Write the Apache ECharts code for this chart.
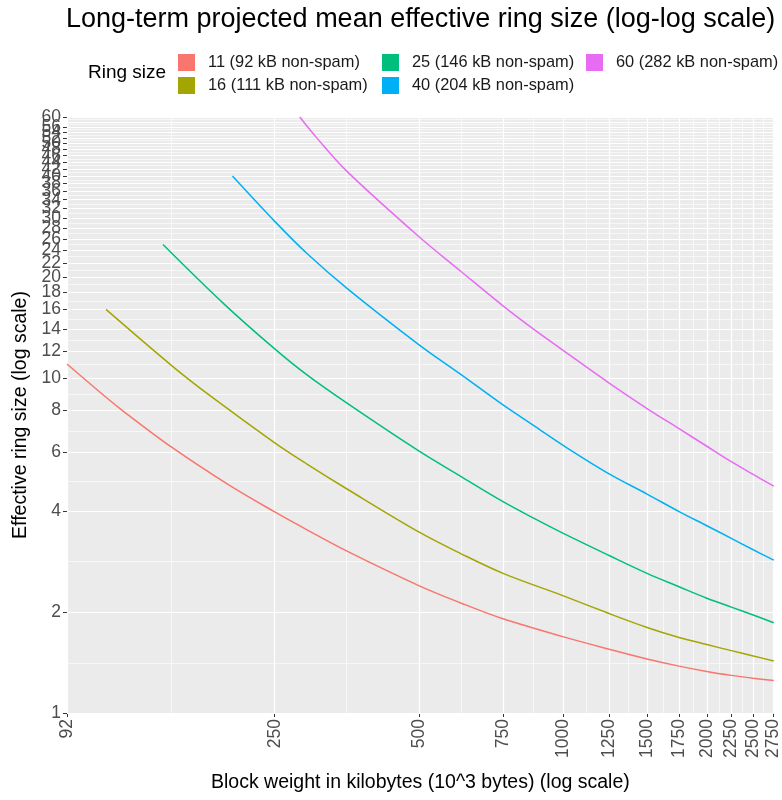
<!DOCTYPE html>
<html><head><meta charset="utf-8">
<script src="https://cdn.jsdelivr.net/npm/echarts@6/dist/echarts.min.js"></script>
<style>html,body{margin:0;padding:0;background:#fff}#c{width:782px;height:800px}</style>
</head><body><div id="c"></div>
<script>
// ---- data ----
const seriesNames = ['11 (92 kB non-spam)', '16 (111 kB non-spam)', '25 (146 kB non-spam)', '40 (204 kB non-spam)', '60 (282 kB non-spam)'];
const seriesColors = ['#F8766D', '#A3A500', '#00BF7D', '#00B0F6', '#E76BF3'];

const weight11 = [92, 111, 120, 152, 200, 250, 292, 354, 500, 612, 750, 1000, 1250, 1500, 1750, 2000, 2250, 2500, 2760];
const ring11   = [11, 8.75, 8.0, 6.22, 4.80, 3.98, 3.52, 3.04, 2.40, 2.13, 1.91, 1.69, 1.55, 1.45, 1.38, 1.33, 1.295, 1.27, 1.25];

const weight16 = [111, 152, 184, 250, 292, 354, 500, 612, 750, 1000, 1250, 1500, 1750, 2000, 2250, 2500, 2760];
const ring16   = [16, 10.9, 8.8, 6.40, 5.53, 4.66, 3.47, 2.99, 2.61, 2.24, 1.98, 1.80, 1.68, 1.60, 1.535, 1.48, 1.43];

const weight25 = [146, 196, 250, 292, 354, 500, 612, 750, 873, 1000, 1250, 1500, 1750, 2000, 2250, 2500, 2760];
const ring25   = [25, 16.6, 12.2, 10.2, 8.4, 6.05, 5.08, 4.27, 3.80, 3.44, 2.95, 2.61, 2.38, 2.20, 2.07, 1.96, 1.86];

const weight40 = [204, 250, 292, 354, 500, 612, 750, 873, 1000, 1250, 1500, 1750, 2000, 2250, 2500, 2760];
const ring40   = [40, 29.3, 23.5, 18.5, 12.57, 10.24, 8.3, 7.18, 6.30, 5.17, 4.50, 3.99, 3.62, 3.32, 3.07, 2.86];

const weight60 = [282, 306, 354, 500, 612, 750, 873, 1000, 1250, 1500, 1750, 2000, 2250, 2500, 2760];
const ring60   = [60, 52, 41.3, 26.4, 20.8, 16.4, 13.9, 12.1, 9.65, 8.1, 7.05, 6.25, 5.62, 5.15, 4.75];

const xTicks = [92, 250, 500, 750, 1000, 1250, 1500, 1750, 2000, 2250, 2500, 2750];
const yTicks = [1, 2, 4, 6, 8, 10, 12, 14, 16, 18, 20, 22, 24, 26, 28, 30, 32, 34, 36, 38, 40, 42, 44, 46, 48, 50, 52, 54, 56, 58, 60];

// ---- build ----
const weights = [weight11, weight16, weight25, weight40, weight60];
const rings = [ring11, ring16, ring25, ring40, ring60];

function midLog(arr) {
  const out = [];
  for (let i = 0; i < arr.length - 1; i++) out.push(Math.sqrt(arr[i] * arr[i + 1]));
  return out;
}
const xMinor = midLog(xTicks);
const yMinor = midLog(yTicks);

const gridLines = [];
xMinor.forEach(v => gridLines.push({ xAxis: v, lineStyle: { color: '#fff', width: 0.6, type: 'solid' } }));
yMinor.forEach(v => gridLines.push({ yAxis: v, lineStyle: { color: '#fff', width: 0.6, type: 'solid' } }));
xTicks.forEach(v => gridLines.push({ xAxis: v, lineStyle: { color: '#fff', width: 1.2, type: 'solid' } }));
yTicks.forEach(v => gridLines.push({ yAxis: v, lineStyle: { color: '#fff', width: 1.2, type: 'solid' } }));

const series = [{
  type: 'line', data: [], z: 1, silent: true,
  markLine: { z: 1, silent: true, symbol: ['none', 'none'], label: { show: false }, animation: false, data: gridLines }
}];
seriesNames.forEach((name, i) => {
  series.push({
    name: name, type: 'line', z: 10,
    data: weights[i].map((w, j) => [w, rings[i][j]]),
    showSymbol: false, symbol: 'none', smooth: 0.35, clip: true,
    lineStyle: { color: seriesColors[i], width: 1.5 },
    itemStyle: { color: seriesColors[i] },
    animation: false
  });
});

const legendCommon = {
  orient: 'vertical', top: 49, itemWidth: 17, itemHeight: 17, itemGap: 6, icon: 'rect',
  selectedMode: false,
  textStyle: { fontSize: 16.4, color: '#1a1a1a', fontFamily: 'Liberation Sans', padding: [0, 0, 0, 8] }
};

const labelFmt = v => String(Math.round(v));

const chart = echarts.init(document.getElementById('c'));
chart.setOption({
  animation: false,
  backgroundColor: '#fff',
  textStyle: { fontFamily: 'Liberation Sans' },
  title: [
    { text: 'Long-term projected mean effective ring size (log-log scale)', left: 61, top: 1,
      textStyle: { fontSize: 27, fontWeight: 'normal', color: '#000', fontFamily: 'Liberation Sans' } },
    { text: 'Ring size', left: 83, top: 58,
      textStyle: { fontSize: 19, fontWeight: 'normal', color: '#000', fontFamily: 'Liberation Sans' } }
  ],
  legend: [
    Object.assign({}, legendCommon, { left: 173, data: [seriesNames[0], seriesNames[1]] }),
    Object.assign({}, legendCommon, { left: 377, data: [seriesNames[2], seriesNames[3]] }),
    Object.assign({}, legendCommon, { left: 581, data: [seriesNames[4]] })
  ],
  grid: { left: 67, right: 0, top: 117, bottom: 87, show: true, backgroundColor: '#EBEBEB', borderWidth: 0, containLabel: false },
  xAxis: {
    type: 'log', logBase: 10, min: 92, max: 2760,
    splitLine: { show: false }, minorSplitLine: { show: false },
    axisLine: { show: false },
    axisTick: { show: true, customValues: xTicks, length: 4, lineStyle: { color: '#333', width: 1 } },
    axisLabel: { customValues: xTicks, formatter: labelFmt, rotate: 90, fontSize: 17.5, color: '#4D4D4D', margin: 6,
      showMinLabel: true, showMaxLabel: true, fontFamily: 'Liberation Sans' },
    name: 'Block weight in kilobytes (10^3 bytes) (log scale)', nameLocation: 'middle', nameGap: 60,
    nameTextStyle: { fontSize: 19.5, color: '#000', fontFamily: 'Liberation Sans' }
  },
  yAxis: {
    type: 'log', logBase: 10, min: 1, max: 60.02,
    splitLine: { show: false }, minorSplitLine: { show: false },
    axisLine: { show: false },
    axisTick: { show: true, customValues: yTicks, length: 4, lineStyle: { color: '#333', width: 1 } },
    axisLabel: { customValues: yTicks, formatter: labelFmt, fontSize: 17.5, color: '#4D4D4D', margin: 6,
      showMinLabel: true, showMaxLabel: true, fontFamily: 'Liberation Sans' },
    name: 'Effective ring size (log scale)', nameLocation: 'middle', nameGap: 35, nameRotate: 90,
    nameTextStyle: { fontSize: 19.5, color: '#000', fontFamily: 'Liberation Sans' }
  },
  series: series
});
</script></body></html>
